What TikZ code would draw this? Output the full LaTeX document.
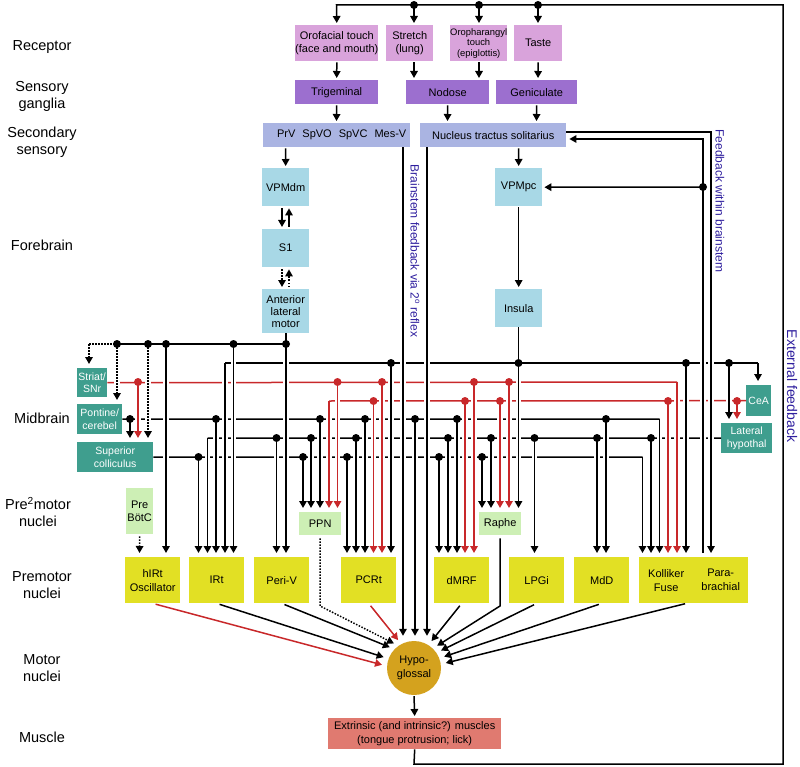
\documentclass[tikz,border=0pt]{standalone}
\usepackage{fontspec}
\setmainfont{Liberation Sans}
\usetikzlibrary{arrows.meta}
\definecolor{cpink}{HTML}{D9A3DB}
\definecolor{cpurp}{HTML}{9C6FCF}
\definecolor{csec}{HTML}{AAB4E2}
\definecolor{cfore}{HTML}{A8D8E6}
\definecolor{cteal}{HTML}{3F9E8E}
\definecolor{cgreen}{HTML}{CDEFB5}
\definecolor{cyel}{HTML}{E2E024}
\definecolor{chyp}{HTML}{D4A21E}
\definecolor{cmus}{HTML}{E07A70}
\definecolor{cred}{HTML}{C8282A}
\definecolor{cblue}{HTML}{2E1E9E}
\tikzset{
  bx/.style={anchor=north west, inner sep=0pt, align=center, draw=none, font=\fontsize{11}{12.5}\selectfont},
  tl/.style={bx, fill=cteal, text=white, font=\fontsize{10.5}{12.8}\selectfont},
  yl/.style={bx, fill=cyel, minimum height=46, font=\fontsize{11}{14}\selectfont},
  lbl/.style={align=center, font=\fontsize{14.5}{17}\selectfont},
  blab/.style={rotate=-90, text=cblue, inner sep=0pt},
  ln/.style={line width=1.5pt},
  ar/.style={ln, -{Triangle[width=7.5pt,length=7pt]}},
  dt/.style={dash pattern=on 1.5pt off 1.5pt},
  halo/.style={draw=white, line width=5.5pt},
  sa/.style={shorten >=2pt, shorten <=1pt},
  sd/.style={shorten >=5pt, shorten <=3pt},
}
\newcommand\vc[4][]{%
  \draw[halo,shorten <=4.5pt,shorten >=10pt] (#2,#3) -- (#2,0|-#4.north);
  \draw[ar,shorten >=4pt,#1] (#2,#3) -- (#2,0|-#4.north);}
\begin{document}
\begin{tikzpicture}[x=1pt,y=-1pt]
\useasboundingbox (0,0) rectangle (800,767);

% ---------- left labels
\node[lbl] (l1) at (42,47) {Receptor};
\node[lbl] (l2) at (42,96) {Sensory\\ganglia};
\node[lbl] (l3) at (42,142) {Secondary\\sensory};
\node[lbl] (l4) at (42,245) {Forebrain};
\node[lbl] (l5) at (42,418) {Midbrain};
\node[lbl] (l6) at (38,512) {Pre\textsuperscript{2}motor\\nuclei};
\node[lbl] (l7) at (42,585) {Premotor\\nuclei};
\node[lbl] (l8) at (42,668) {Motor\\nuclei};
\node[lbl] (l9) at (42,737) {Muscle};

% ---------- boxes
\node[bx,fill=cpink,minimum width=83,minimum height=36] (oro) at (295,25) {Orofacial touch\\(face and mouth)};
\node[bx,fill=cpink,minimum width=47,minimum height=36] (str) at (386,25) {Stretch\\(lung)};
\node[bx,fill=cpink,minimum width=57,minimum height=36,font=\fontsize{9.4}{10.5}\selectfont] (orp) at (450,25) {Oropharangyl\\touch\\(epiglottis)};
\node[bx,fill=cpink,minimum width=48,minimum height=36] (tas) at (514,25) {Taste};

\node[bx,fill=cpurp,minimum width=83,minimum height=24] (tri) at (295,80) {Trigeminal};
\node[bx,fill=cpurp,minimum width=83,minimum height=24] (nod) at (406,80) {Nodose};
\node[bx,fill=cpurp,minimum width=81,minimum height=24] (gen) at (496,80) {Geniculate};

\node[bx,fill=csec,minimum width=147,minimum height=24] (prv) at (263,123) {\hspace*{10pt}PrV\hspace{7pt}SpVO\hspace{7pt}SpVC\hspace{7pt}Mes-V};
\node[bx,fill=csec,minimum width=146,minimum height=24] (nts) at (420,123) {Nucleus tractus solitarius};

\node[bx,fill=cfore,minimum width=47,minimum height=38] (vpmdm) at (262,168) {VPMdm};
\node[bx,fill=cfore,minimum width=47,minimum height=38] (s1) at (262,229) {S1};
\node[bx,fill=cfore,minimum width=47,minimum height=44,font=\fontsize{11}{12}\selectfont] (alm) at (262,289) {Anterior\\lateral\\motor};
\node[bx,fill=cfore,minimum width=47,minimum height=38] (vpmpc) at (495,168) {VPMpc};
\node[bx,fill=cfore,minimum width=47,minimum height=38] (ins) at (495,289) {Insula};

\node[tl,minimum width=30,minimum height=29] (snr) at (77,368) {Striat/\\SNr};
\node[tl,minimum width=45,minimum height=30] (pon) at (77,404) {Pontine/\\cerebel};
\node[tl,minimum width=76,minimum height=30] (sc) at (77,442) {Superior\\colliculus};
\node[tl,minimum width=25,minimum height=31] (cea) at (746,385) {CeA};
\node[tl,minimum width=51,minimum height=30] (lh) at (721,423) {Lateral\\hypothal};

\node[bx,fill=cgreen,minimum width=27,minimum height=46] (pbc) at (126,488) {Pre\\BötC};
\node[bx,fill=cgreen,minimum width=42,minimum height=23] (ppn) at (299,512) {PPN};
\node[bx,fill=cgreen,minimum width=42,minimum height=23] (rap) at (479,512) {Raphe};

\node[yl,minimum width=55] (hirt) at (125,557) {hIRt\\Oscillator};
\node[yl,minimum width=55] (irt) at (189,557) {IRt};
\node[yl,minimum width=55] (periv) at (254,557) {Peri-V};
\node[yl,minimum width=55] (pcrt) at (341,557) {PCRt};
\node[yl,minimum width=55] (dmrf) at (434,557) {dMRF};
\node[yl,minimum width=55] (lpgi) at (509,557) {LPGi};
\node[yl,minimum width=55] (mdd) at (574,557) {MdD};
\node[yl,minimum width=54] (kf) at (639,557) {Kolliker\\Fuse};
\node[yl,minimum width=55] (pb) at (693,557) {Para-\\brachial};

\node[circle,fill=chyp,minimum size=54,inner sep=0pt,align=center,font=\fontsize{11}{13.3}\selectfont] (hyp) at (414,668) {Hypo-\\glossal};
\node[bx,fill=cmus,minimum width=173,minimum height=31,font=\fontsize{11}{14.5}\selectfont] (mus) at (328,718) {Extrinsic (and intrinsic?) muscles\\(tongue protrusion; lick)};

% ---------- rotated labels
\node[blab,font=\fontsize{12}{14}\selectfont] (fbw) at (720,201) {Feedback within brainstem};
\node[blab,font=\fontsize{12}{14}\selectfont] (bsf) at (415,251) {Brainstem feedback via 2\textsuperscript{o} reflex};
\node[blab,font=\fontsize{14}{16}\selectfont] (ext) at (792,386) {External feedback};

% ---------- horizontal buses
\draw[ln,dt] (89,344) -- (117,344);
\draw[ln] (117,344) -- (286,344);
\draw[ln] (225,363) -- (758,363);
\draw[ln,cred] (snr.east) -- (677,382);
\draw[ln,cred] (cea.west) -- (329,401);
\draw[ln] (pon.east) -- (659.5,419);
\draw[ln] (lh.west) -- (207.5,438);
\draw[ln] (sc.east) -- (642.5,457);

% ---------- verticals (with halo)
% bus 344
\vc[dt]{89}{344}{snr}
\vc[dt]{117}{344}{pon}
\vc[dt]{148}{344}{sc}
\vc{166}{344}{hirt}
\vc{233.5}{344}{irt}
\vc{286}{333}{periv}
% red 382
\vc[cred]{138}{382}{sc}
\vc[cred]{337.5}{382}{ppn}
\vc[cred]{382}{382}{pcrt}
\vc[cred]{474}{382}{dmrf}
\vc[cred]{509}{382}{rap}
\vc[cred]{677}{382}{kf}
% red 401
\vc[cred]{737}{401}{lh}
\vc[cred]{668}{401}{kf}
\vc[cred]{500}{401}{rap}
\vc[cred]{465}{401}{dmrf}
\vc[cred]{373.5}{401}{pcrt}
\vc[cred]{329}{401}{ppn}
% 363 (insula)
\vc{225}{363}{irt}
\vc{391}{363}{pcrt}
\vc{518.5}{327}{rap}
\vc{686}{363}{kf}
\vc{729}{363}{lh}
\vc{758}{363}{cea}
% 419 (pontine)
\vc{130}{419}{sc}
\vc{216}{419}{irt}
\vc{320}{419}{ppn}
\vc{365}{419}{pcrt}
\vc{457}{419}{dmrf}
\vc{606}{419}{mdd}
\vc{659.5}{419}{kf}
% 438 (lateral hypothalamus)
\vc{207.5}{438}{irt}
\vc{276.5}{438}{periv}
\vc{311}{438}{ppn}
\vc{356}{438}{pcrt}
\vc{448}{438}{dmrf}
\vc{491}{438}{rap}
\vc{534.5}{438}{lpgi}
\vc{597}{438}{mdd}
\vc{651}{438}{kf}
% 457 (superior colliculus)
\vc{198.5}{457}{irt}
\vc{303}{457}{ppn}
\vc{347}{457}{pcrt}
\vc{439}{457}{dmrf}
\vc{482}{457}{rap}
\vc{642.5}{457}{kf}

% long lines to hypoglossal
\draw[halo,shorten <=4pt,shorten >=13pt] (403,0|-prv.south) -- (403,0|-hyp.north);
\draw[ar,shorten >=5pt] (403,0|-prv.south) -- (403,0|-hyp.north);
\draw[halo,shorten <=4pt,shorten >=13pt] (427,0|-nts.south) -- (427,0|-hyp.north);
\draw[ar,shorten >=5pt] (427,0|-nts.south) -- (427,0|-hyp.north);
\draw[halo,shorten <=4.5pt,shorten >=13pt] (415,419) -- (415,0|-hyp.north);
\draw[ar,shorten >=5pt] (415,419) -- (415,0|-hyp.north);

% feedback within brainstem
\draw[halo] (703,345) -- (703,545);
\draw[halo] (711,345) -- (711,545);
\draw[ar,shorten >=3pt,shorten <=4pt] (703,0|-pb.north) -- (703,139) -- (nts.east|-0,139);
\draw[ar,shorten >=4pt] (nts.east|-0,132) -- (711,132) -- (711,0|-pb.north);
\draw[ar,shorten >=2pt] (703,187) -- (vpmpc.east);

% ---------- dots
\foreach \x in {117,148,166,233.5,286} \fill (\x,344) circle (4);
\foreach \x in {391,518.5,686,729} \fill (\x,363) circle (4);
\foreach \x in {138,337.5,382,474,509} \fill[cred] (\x,382) circle (4);
\foreach \x in {373.5,465,500,668,737} \fill[cred] (\x,401) circle (4);
\foreach \x in {130,216,320,365,415,457,606} \fill (\x,419) circle (4);
\foreach \x in {276.5,311,356,448,491,534.5,597,651} \fill (\x,438) circle (4);
\foreach \x in {198.5,303,347,439,482} \fill (\x,457) circle (4);
\fill (703,187) circle (4);

% ---------- top section
\draw[ar,shorten >=2pt] (mus.south) -- (414,764) -- (783,764) -- (783,5) -- (336.5,5) -- (oro.north);
\foreach \x/\n in {414/str,479/orp,538/tas} \draw[ar,shorten >=2pt] (\x,5) -- (\x,0|-\n.north);
\foreach \x in {414,479,538} \fill (\x,5) circle (4);
\draw[ar,sa] (oro.south) -- (tri.north);
\draw[ar,sa] (414,0|-str.south) -- (414,0|-nod.north);
\draw[ar,sa] (479,0|-orp.south) -- (479,0|-nod.north);
\draw[ar,sa] (tas.south) -- (538,0|-gen.north);
\draw[ar,sa] (tri.south) -- (336.5,0|-prv.north);
\draw[ar,sa] (nod.south) -- (447.5,0|-nts.north);
\draw[ar,sa] (gen.south) -- (536.5,0|-nts.north);

% forebrain
\draw[ar,sa] (285.5,0|-prv.south) -- (vpmdm.north);
\draw[ar,sa,shorten <=2pt] (282,0|-vpmdm.south) -- (282,0|-s1.north);
\draw[ar,sa,shorten <=2pt] (289,0|-s1.north) -- (289,0|-vpmdm.south);
\draw[ar,dt,sa,shorten <=2pt] (282,0|-s1.south) -- (282,0|-alm.north);
\draw[ar,dt,sa,shorten <=2pt] (289,0|-alm.north) -- (289,0|-s1.south);
\draw[ar,sa] (518.5,0|-nts.south) -- (vpmpc.north);
\draw[ar,sa] (vpmpc.south) -- (ins.north);

% pre-Botzinger
\draw[ar,dt,shorten <=2pt,shorten >=4pt] (pbc.south) -- (139.5,0|-hirt.north);

% ---------- premotor -> hypoglossal
\draw[ar,cred,sd] (hirt.south) -- (hyp.176);
\draw[ar,sd] (irt.south) -- (hyp.160);
\draw[ar,sd] (periv.south) -- (hyp.136);
\draw[ar,dt,sd] (ppn.south) -- (320,606) -- (hyp.125);
\draw[ar,cred,sd] (pcrt.south) -- (hyp.118);
\draw[ar,sd] (dmrf.south) -- (hyp.58);
\draw[ar,sd] (rap.south) -- (500,606) -- (hyp.46);
\draw[ar,sd] (lpgi.south) -- (hyp.34);
\draw[ar,sd] (mdd.south) -- (hyp.21);
\draw[ar,sd] (688,603) -- (hyp.8);

% hypoglossal -> muscle
\draw[ar,sa] (hyp.south) -- (mus.north);
\end{tikzpicture}
\end{document}
